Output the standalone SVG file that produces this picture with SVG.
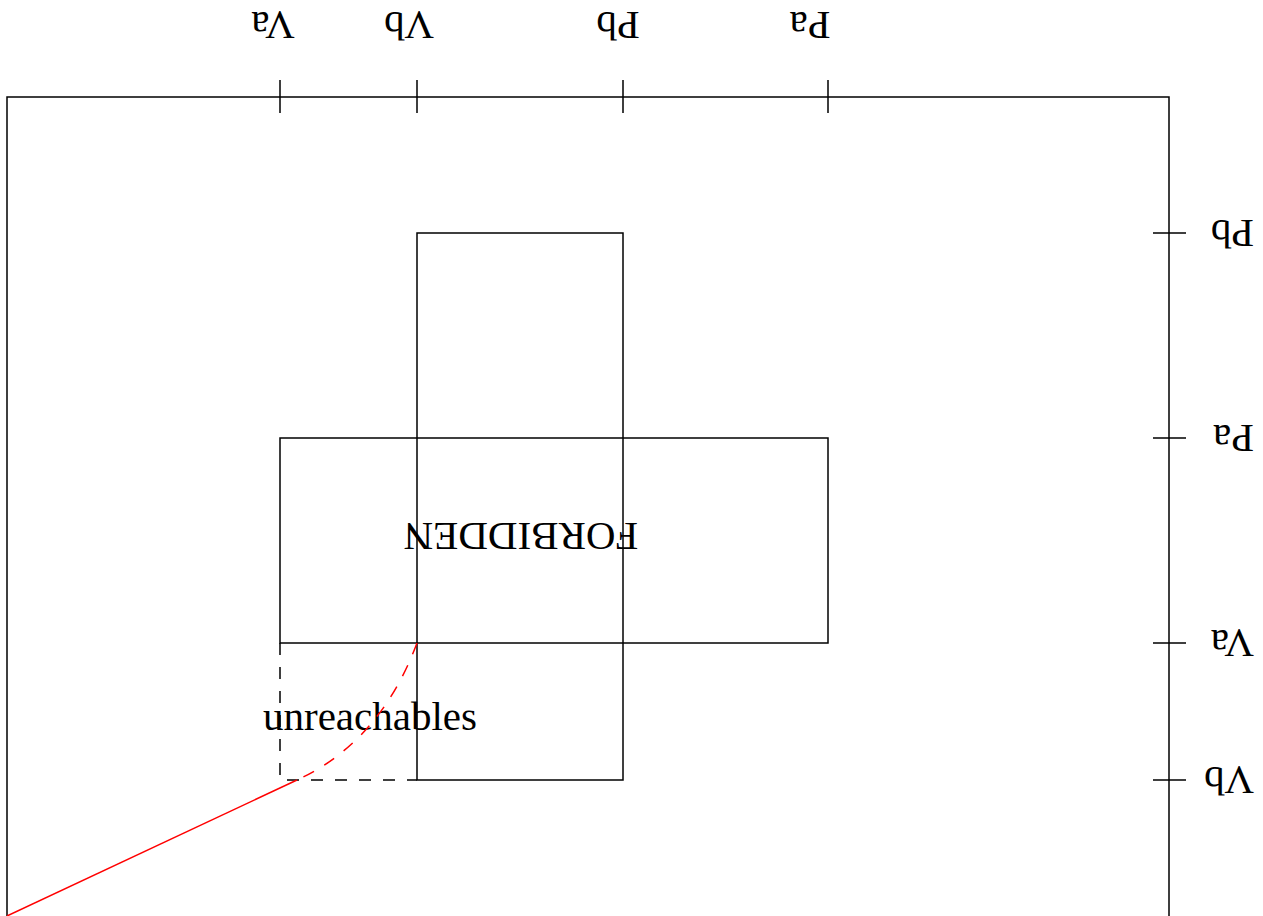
<svg xmlns="http://www.w3.org/2000/svg" width="1263" height="916" viewBox="0 0 1263 916">
<style>
.ln{fill:none;stroke:#000;stroke-width:1.5}
.dash{fill:none;stroke:#000;stroke-width:1.5;stroke-dasharray:12 12}
.red{fill:none;stroke:#ff0000;stroke-width:1.5}
.reddash{fill:none;stroke:#ff0000;stroke-width:1.5;stroke-dasharray:12 12}
text{font-family:"Liberation Serif","Times New Roman",serif;font-size:41px;fill:#000}
</style>
<rect width="1263" height="916" fill="#fff"/>
<g id="frame">
<path class="ln" d="M7,1000 V97 H1169 V1000"/>
<path class="ln" d="M280,80 V113 M417,80 V113 M623,80 V113 M828,80 V113"/>
<path class="ln" d="M1153,233 H1186 M1153,438 H1186 M1153,643 H1186 M1153,780 H1186"/>
</g>
<g id="axis-labels">
<text transform="translate(273,12) rotate(180)" text-anchor="middle">Va</text>
<text transform="translate(409,12) rotate(180)" text-anchor="middle">Vb</text>
<text transform="translate(618,12) rotate(180)" text-anchor="middle">Pb</text>
<text transform="translate(810,12) rotate(180)" text-anchor="middle">Pa</text>
<text transform="translate(1254,220) rotate(180)">Pb</text>
<text transform="translate(1254,425) rotate(180)">Pa</text>
<text transform="translate(1254,630) rotate(180)">Va</text>
<text transform="translate(1254,767) rotate(180)">Vb</text>
</g>
<g id="forbidden">
<rect class="ln" x="417" y="233" width="206" height="547"/>
<rect class="ln" x="280" y="438" width="548" height="205"/>
<text transform="translate(521,523) rotate(180)" text-anchor="middle">FORBIDDEN</text>
</g>
<g id="unreachables">
<path class="dash" d="M280,643 V780 H417"/>
<text x="263" y="730">unreachables</text>
</g>
<g id="connectors">
<path class="reddash" d="M417,643 Q380,742 297,780"/>
<path class="red" d="M297,780 L7,916"/>
</g>
</svg>
